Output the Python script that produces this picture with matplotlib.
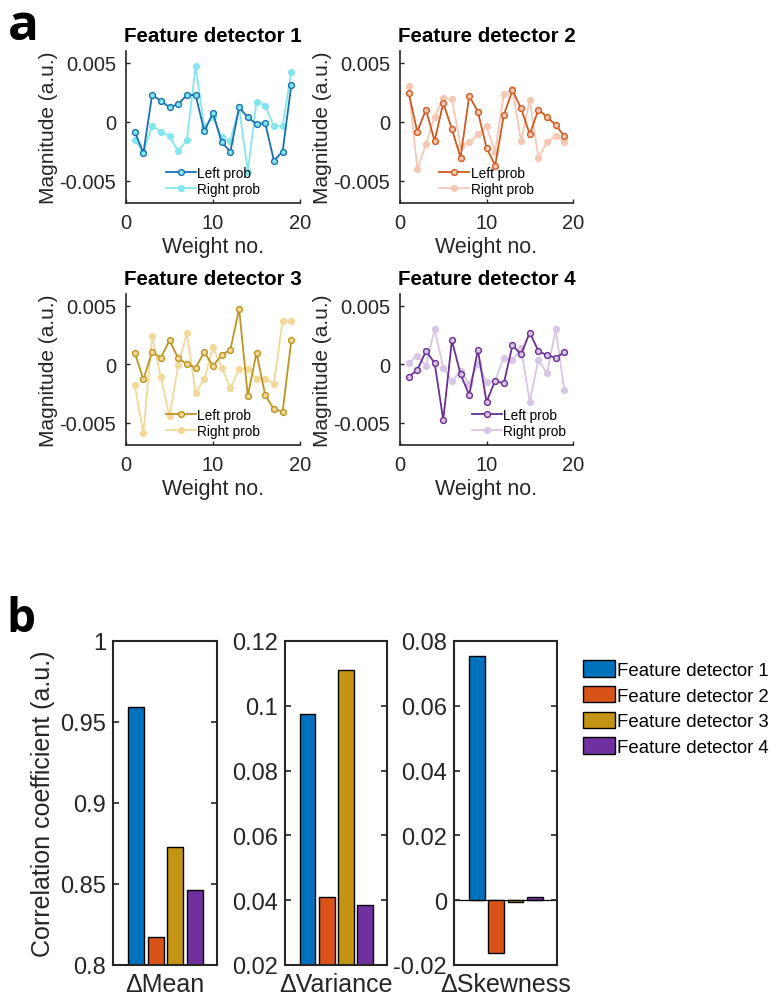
import numpy as np
import matplotlib.pyplot as plt
from matplotlib.patches import Patch

# panel a data: weights of 4 feature detectors (left / right prob)
weight_no = np.arange(1, 20)
fd1_left = [-0.00085, -0.00265, 0.00226, 0.00178, 0.00121, 0.0015, 0.00226, 0.00226, -0.00079, 0.00073,
            -0.00175, -0.00254, 0.00121, 0.00037, -0.0002, -0.00011, -0.0033, -0.00254, 0.0031]
fd1_right = [-0.00153, -0.0026, -0.00034, -0.00085, -0.00124, -0.00249, -0.00153, 0.00469, -0.00048, 0.00037,
             -0.00133, -0.00161, 0.00121, -0.00424, 0.0017, 0.00136, -0.0004, -0.00034, 0.00424]
fd2_left = [0.00243, -0.00085, 0.00102, -0.00164, 0.00158, -0.00062, -0.00305, 0.0022, 0.00085, -0.0022,
            -0.00373, 0.00056, 0.00266, 0.00113, -0.00107, 0.00102, 0.0004, -0.00028, -0.00124]
fd2_right = [0.00305, -0.00401, -0.00192, 0.0004, 0.00203, 0.00192, -0.00203, -0.00175, -0.00107, -0.0004,
             -0.00254, 0.00232, 0.00277, -0.00164, 0.00186, -0.00305, -0.00175, -0.00119, -0.00175]
fd3_left = [0.00099, -0.0013, 0.00105, 0.00056, 0.00203, 0.00051, 0.0, -0.00028, 0.00102, -0.00014,
            0.00079, 0.00124, 0.00475, -0.00271, 0.00096, -0.00263, -0.00384, -0.00404, 0.00203]
fd3_right = [-0.00178, -0.00588, 0.00237, -0.0011, -0.00446, -0.00008, 0.00266, -0.00243, -0.0013, 0.00147,
             -0.00031, -0.00206, -0.0004, -0.00037, -0.0013, -0.00124, -0.0017, 0.00373, 0.00367]
fd4_left = [-0.00107, -0.00051, 0.00113, 0.00011, -0.00475, 0.00203, -0.00085, -0.00263, 0.00124, -0.00322,
            -0.00141, -0.00164, 0.00161, 0.00085, 0.00271, 0.00113, 0.00076, 0.00056, 0.00102]
fd4_right = [0.00011, 0.00073, -0.00011, 0.00299, -0.00028, -0.00147, -0.00056, -0.0017, 0.00006, -0.00153,
             -0.00141, 0.00056, 0.00034, 0.00136, -0.00322, 0.0004, -0.00079, 0.00299, -0.0022]

# panel b data
detectors = ['Feature detector 1', 'Feature detector 2', 'Feature detector 3', 'Feature detector 4']
metrics = ['\u0394Mean', '\u0394Variance', '\u0394Skewness']
corr_mean = [0.959, 0.817, 0.873, 0.846]
corr_var = [0.0975, 0.041, 0.111, 0.0385]
corr_skew = [0.0755, -0.0163, -0.0005, 0.0011]

bar_colors = ['#0072BD', '#D95319', '#C49414', '#7030A0']
dark = ['#1A6FB0', '#D2581E', '#BE9420', '#6A2E96']
light = ['#86E6F0', '#F4C8B4', '#F2D99A', '#D8C6E6']
axis_col = '#262626'

plt.rcParams['font.family'] = 'Liberation Sans'

fig = plt.figure(figsize=(7.70, 10.03), dpi=100)
W, H = 770, 1003

def px_axes(l, t, r, b):
    return fig.add_axes([l / W, 1 - b / H, (r - l) / W, (b - t) / H])

panel_a = [
    (126, 52, 300, 204, fd1_left, fd1_right),
    (400, 52, 573, 204, fd2_left, fd2_right),
    (126, 295, 300, 446, fd3_left, fd3_right),
    (400, 295, 573, 446, fd4_left, fd4_right),
]
legend_loc = ['lower center', 'lower center', 'lower center', 'lower right']
legend_anchor = [(0.5, 0.0), (0.5, 0.0), (0.5, 0.0), (1.0, 0.0)]

for i, (l, t, r, b, left, right) in enumerate(panel_a):
    ax = px_axes(l, t, r, b)
    ax.plot(weight_no, left, '-o', color=dark[i], lw=1.3, ms=4.2, mfc=light[i], mec=dark[i], mew=1.0,
            label='Left prob', zorder=3)
    ax.plot(weight_no, right, '-o', color=light[i], lw=1.3, ms=4.2, mfc=light[i], mec=light[i], mew=1.0,
            label='Right prob', zorder=2)
    ax.set_xlim(0, 20)
    ax.set_ylim(-0.0069, 0.006)
    ax.set_xticks([0, 10, 20])
    ax.set_yticks([-0.005, 0, 0.005])
    ax.set_yticklabels(['-0.005', '0', '0.005'])
    ax.spines['top'].set_visible(False)
    ax.spines['right'].set_visible(False)
    for s in ['left', 'bottom']:
        ax.spines[s].set_color(axis_col)
        ax.spines[s].set_linewidth(1.2)
    ax.tick_params(direction='in', length=3, width=1, colors=axis_col, labelsize=14.5, pad=7)
    ax.set_xlabel('Weight no.', fontsize=15.5, color=axis_col, labelpad=3)
    ax.set_ylabel('Magnitude (a.u.)', fontsize=15, color=axis_col, labelpad=1)
    ax.set_title('Feature detector %d' % (i + 1), fontsize=14.8, fontweight='bold', pad=7)
    ax.legend(loc=legend_loc[i], bbox_to_anchor=legend_anchor[i], frameon=False, fontsize=9.8,
              handlelength=2.2, handletextpad=0.1, labelspacing=0.15, borderpad=0.0)

fig.text(8 / W, 1 - 40 / H, 'a', fontsize=37, fontweight='bold', family='Open Sans')
fig.text(6 / W, 1 - 632 / H, 'b', fontsize=33, fontweight='bold', family='Open Sans')

# panel b
pos = np.arange(4)
panel_b = [
    (113, 642, 217, 966, corr_mean, (0.8, 1.0), [0.8, 0.85, 0.9, 0.95, 1.0], ['0.8', '0.85', '0.9', '0.95', '1']),
    (285, 642, 387, 966, corr_var, (0.02, 0.12), [0.02, 0.04, 0.06, 0.08, 0.1, 0.12],
     ['0.02', '0.04', '0.06', '0.08', '0.1', '0.12']),
    (454, 642, 557, 966, corr_skew, (-0.02, 0.08), [-0.02, 0, 0.02, 0.04, 0.06, 0.08],
     ['-0.02', '0', '0.02', '0.04', '0.06', '0.08']),
]
for j, (l, t, r, b, vals, ylim, yt, ytl) in enumerate(panel_b):
    ax = px_axes(l, t, r, b)
    base = ylim[0] if j < 2 else 0
    heights = [v - base for v in vals]
    ax.bar(pos, heights, bottom=base, width=0.82, color=bar_colors, edgecolor='black', linewidth=1.0, zorder=2)
    if j == 2:
        ax.axhline(0, color='black', lw=0.9, zorder=1)
    ax.set_xlim(-1.18, 4.15)
    ax.set_ylim(*ylim)
    ax.set_yticks(yt)
    ax.set_yticklabels(ytl)
    ax.set_xticks([1.5])
    ax.set_xticklabels([metrics[j]])
    for s in ax.spines.values():
        s.set_color(axis_col)
        s.set_linewidth(1.5)
    ax.tick_params(axis='y', direction='in', length=4, width=1.2, colors=axis_col, labelsize=17, right=True, pad=5)
    ax.tick_params(axis='x', length=0, labelsize=18, colors=axis_col, pad=5)
    if j == 0:
        ax.set_ylabel('Correlation coefficient (a.u.)', fontsize=18, color=axis_col, labelpad=4)

handles = [Patch(facecolor=c, edgecolor='black', linewidth=1.0) for c in bar_colors]
fig.legend(handles, detectors, loc='upper left', bbox_to_anchor=(570 / W, 1 - 648 / H), frameon=False,
           fontsize=13.4, handlelength=1.7, handleheight=1.0, handletextpad=0.1, labelspacing=0.38,
           borderpad=0.2)

fig.savefig('out.png', dpi=100)
